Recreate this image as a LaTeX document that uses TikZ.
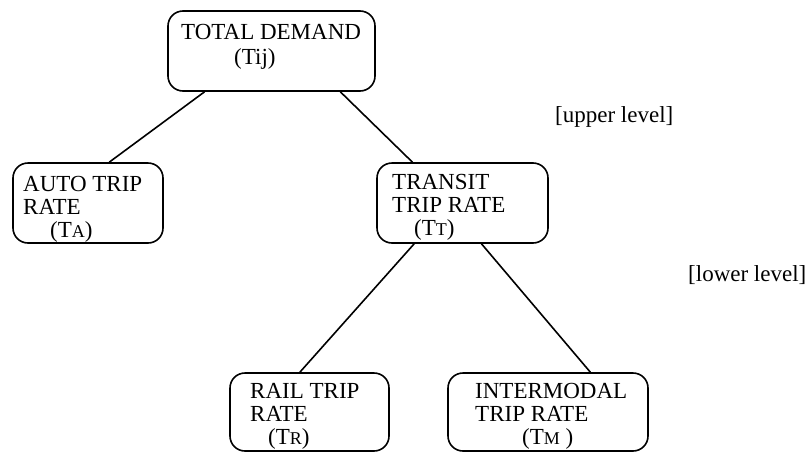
\documentclass[tikz,border=0pt]{standalone}
\usepackage{fontspec}
\setmainfont{Liberation Serif}
\usetikzlibrary{calc}
\newcommand{\smc}[1]{{\fontsize{18}{23}\selectfont #1}}
\begin{document}
\begin{tikzpicture}[x=1pt,y=-1pt,
  box/.style={draw, line width=1.6pt, rounded corners=15pt, inner sep=0pt},
  txt/.style={inner sep=0pt, anchor=north west, align=left,
    font=\fontsize{23}{23}\selectfont},
  lvl/.style={inner sep=0pt, anchor=west, font=\fontsize{23}{23}\selectfont},
  link/.style={line width=1.6pt}]
\useasboundingbox (0,0) rectangle (808,453);

% boxes
\node[box, minimum width=207pt, minimum height=80pt] (total) at (271.5,51) {};
\node[box, minimum width=150pt, minimum height=80pt] (auto) at (88,203) {};
\node[box, minimum width=171pt, minimum height=80pt] (transit) at (462.5,203) {};
\node[box, minimum width=159pt, minimum height=78pt] (rail) at (309.5,412) {};
\node[box, minimum width=200pt, minimum height=78pt] (inter) at (548,412) {};

% box texts
\node[txt] (ttotal) at (181,24) {TOTAL DEMAND\\[2pt]\hspace*{53pt}(Tij)};
\node[txt] (tauto) at (23,176) {AUTO TRIP\\RATE\\\hspace*{27pt}(T\smc{A})};
\node[txt] (ttransit) at (392,174) {TRANSIT\\TRIP RATE\\\hspace*{22pt}(T\smc{T})};
\node[txt] (trail) at (250,383) {RAIL TRIP\\RATE\\\hspace*{18pt}(T\smc{R})};
\node[txt] (tinter) at (475,383) {INTERMODAL\\TRIP RATE\\\hspace*{47pt}(T\smc{M} )};

% level labels
\node[lvl] (upper) at (555,117) {[upper level]};
\node[lvl] (lower) at (688,275) {[lower level]};

% connectors
\draw[link] ($(total.south west)!0.179!(total.south east)$) -- ($(auto.north west)!0.64!(auto.north east)$);
\draw[link] ($(total.south west)!0.83!(total.south east)$) -- ($(transit.north west)!0.21!(transit.north east)$);
\draw[link] ($(transit.south west)!0.22!(transit.south east)$) -- ($(rail.north west)!0.44!(rail.north east)$);
\draw[link] ($(transit.south west)!0.61!(transit.south east)$) -- ($(inter.north west)!0.71!(inter.north east)$);
\end{tikzpicture}
\end{document}
